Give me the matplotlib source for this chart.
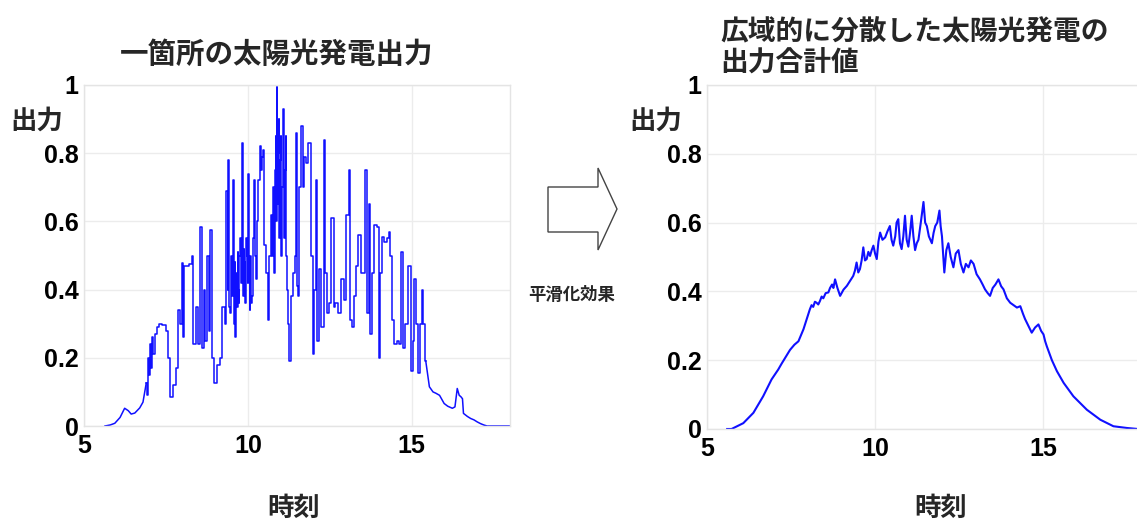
import matplotlib
matplotlib.use("Agg")
import matplotlib.pyplot as plt
import numpy as np
from matplotlib.patches import Polygon

plt.rcParams['font.family'] = ['Noto Sans CJK JP', 'DejaVu Sans']

# ---- data: single site PV output (left) ----
single_time = [5.64, 5.8, 5.94, 6.1, 6.24, 6.35, 6.44, 6.55, 6.70, 6.8, 6.9, 6.93, 6.97, 7.0, 7.03,
               7.06, 7.1, 7.13, 7.18, 7.25, 7.3, 7.45, 7.55, 7.58, 7.66, 7.75, 7.86, 7.9, 7.95, 8.01,
               8.04, 8.07, 8.15, 8.25, 8.32, 8.36, 8.45, 8.5, 8.57, 8.62, 8.68, 8.72, 8.78, 8.82, 8.9,
               8.93, 9.0, 9.1, 9.17, 9.27, 9.32, 9.37, 9.39, 9.42, 9.44, 9.47, 9.49, 9.52, 9.54, 9.57,
               9.58, 9.6, 9.61, 9.63, 9.65, 9.67, 9.68, 9.7, 9.71, 9.73, 9.75, 9.78, 9.8, 9.83, 9.85,
               9.86, 9.88, 9.9, 9.92, 9.94, 9.96, 9.98, 10.0, 10.03, 10.05, 10.06, 10.08, 10.1, 10.12,
               10.15, 10.18, 10.21, 10.23, 10.25, 10.3, 10.34, 10.38, 10.42, 10.45, 10.48, 10.52,
               10.58, 10.64, 10.68, 10.74, 10.76, 10.78, 10.8, 10.82, 10.84, 10.85, 10.87, 10.89,
               10.9, 10.92, 10.93, 10.95, 10.96, 10.98, 11.0, 11.02, 11.03, 11.05, 11.07, 11.09,
               11.1, 11.12, 11.14, 11.16, 11.18, 11.2, 11.25, 11.29, 11.35, 11.4, 11.45, 11.49,
               11.52, 11.55, 11.6, 11.65, 11.7, 11.75, 11.8, 11.9, 11.95, 12.0, 12.05, 12.1, 12.15,
               12.2, 12.27, 12.35, 12.38, 12.45, 12.5, 12.6, 12.63, 12.7, 12.81, 12.9, 12.96, 13.06,
               13.11, 13.14, 13.2, 13.27, 13.32, 13.42, 13.5, 13.62, 13.65, 13.72, 13.75, 13.8,
               13.87, 13.92, 13.97, 14.02, 14.07, 14.12, 14.2, 14.27, 14.32, 14.38, 14.42, 14.53,
               14.6, 14.65, 14.7, 14.75, 14.85, 14.93, 15.0, 15.05, 15.1, 15.15, 15.23, 15.28,
               15.33, 15.38, 15.43, 15.54, 15.65, 15.74, 15.85, 15.99, 16.1, 16.24, 16.32, 16.39,
               16.45, 16.5, 16.55, 16.58, 16.7, 16.8, 16.9, 17.0, 17.1, 17.2, 17.3, 18.0]
single_output = [0.0, 0.003, 0.008, 0.025, 0.052, 0.045, 0.035, 0.038, 0.053, 0.07, 0.126, 0.09, 0.2,
                 0.15, 0.24, 0.17, 0.26, 0.21, 0.27, 0.29, 0.30, 0.295, 0.28, 0.2, 0.086, 0.12, 0.17,
                 0.34, 0.3, 0.477, 0.26, 0.47, 0.47, 0.475, 0.5, 0.24, 0.35, 0.24, 0.585, 0.23, 0.4,
                 0.25, 0.5, 0.28, 0.575, 0.2, 0.125, 0.18, 0.2, 0.35, 0.3, 0.69, 0.4, 0.78, 0.35,
                 0.33, 0.5, 0.45, 0.38, 0.72, 0.42, 0.3, 0.48, 0.26, 0.4, 0.45, 0.35, 0.51, 0.4, 0.36,
                 0.5, 0.55, 0.42, 0.83, 0.45, 0.38, 0.52, 0.48, 0.36, 0.4, 0.55, 0.5, 0.42, 0.74,
                 0.45, 0.34, 0.5, 0.45, 0.36, 0.38, 0.55, 0.72, 0.5, 0.43, 0.6, 0.72, 0.82, 0.75,
                 0.79, 0.81, 0.53, 0.45, 0.31, 0.5, 0.62, 0.5, 0.7, 0.55, 0.45, 0.75, 0.85, 0.6,
                 0.995, 0.7, 0.65, 0.8, 0.9, 0.55, 0.6, 0.78, 0.85, 0.5, 0.7, 0.8, 0.93, 0.6, 0.55,
                 0.75, 0.85, 0.5, 0.4, 0.3, 0.19, 0.38, 0.45, 0.5, 0.86, 0.41, 0.38, 0.7, 0.88, 0.7,
                 0.79, 0.77, 0.83, 0.5, 0.21, 0.4, 0.72, 0.25, 0.46, 0.29, 0.84, 0.45, 0.33, 0.36,
                 0.61, 0.35, 0.36, 0.33, 0.43, 0.37, 0.62, 0.75, 0.31, 0.29, 0.38, 0.47, 0.56, 0.45,
                 0.75, 0.33, 0.65, 0.27, 0.45, 0.59, 0.59, 0.585, 0.2, 0.45, 0.555, 0.54, 0.55, 0.57,
                 0.5, 0.31, 0.24, 0.25, 0.24, 0.51, 0.23, 0.3, 0.47, 0.16, 0.25, 0.43, 0.3, 0.155,
                 0.3, 0.4, 0.3, 0.19, 0.115, 0.1, 0.096, 0.09, 0.066, 0.058, 0.052, 0.056, 0.11,
                 0.09, 0.086, 0.08, 0.037, 0.028, 0.022, 0.018, 0.012, 0.007, 0.003, 0.0, 0.0]

# ---- data: aggregated output of widely distributed PV (right) ----
total_time = [5.6, 5.73, 6.08, 6.38, 6.67, 6.92, 7.12, 7.22, 7.47, 7.6, 7.72, 7.87, 8.06, 8.11, 8.16,
              8.21, 8.26, 8.31, 8.36, 8.41, 8.46, 8.53, 8.61, 8.66, 8.72, 8.76, 8.81, 8.88, 8.96,
              9.06, 9.16, 9.25, 9.35, 9.4, 9.45, 9.5, 9.55, 9.6, 9.65, 9.7, 9.75, 9.8, 9.85, 9.9,
              9.95, 10.0, 10.05, 10.1, 10.15, 10.22, 10.3, 10.37, 10.44, 10.49, 10.54, 10.6, 10.64,
              10.69, 10.74, 10.79, 10.84, 10.89, 10.94, 10.99, 11.04, 11.09, 11.14, 11.19, 11.24,
              11.29, 11.36, 11.44, 11.49, 11.54, 11.6, 11.69, 11.74, 11.79, 11.85, 11.915, 11.95,
              11.99, 12.03, 12.06, 12.12, 12.18, 12.25, 12.33, 12.4, 12.48, 12.55, 12.63, 12.7,
              12.78, 12.85, 12.93, 13.02, 13.12, 13.2, 13.27, 13.35, 13.42, 13.5, 13.58, 13.67,
              13.75, 13.82, 13.92, 14.02, 14.12, 14.22, 14.32, 14.4, 14.46, 14.56, 14.66, 14.76,
              14.86, 14.94, 15.01, 15.06, 15.11, 15.26, 15.41, 15.61, 15.90, 16.3, 16.7, 17.09,
              17.49, 17.8, 18.0]
total_output = [0.0, 0.0, 0.017, 0.047, 0.095, 0.144, 0.173, 0.19, 0.23, 0.245, 0.255, 0.29, 0.348,
                0.36, 0.355, 0.37, 0.367, 0.362, 0.372, 0.385, 0.38, 0.395, 0.397, 0.41, 0.42, 0.41,
                0.435, 0.41, 0.387, 0.405, 0.416, 0.43, 0.445, 0.46, 0.484, 0.455, 0.465, 0.49,
                0.528, 0.49, 0.494, 0.515, 0.503, 0.52, 0.533, 0.51, 0.494, 0.545, 0.571, 0.55,
                0.557, 0.575, 0.59, 0.55, 0.533, 0.56, 0.6, 0.61, 0.54, 0.523, 0.56, 0.62, 0.55,
                0.53, 0.57, 0.62, 0.56, 0.52, 0.54, 0.55, 0.6, 0.66, 0.6, 0.59, 0.56, 0.54, 0.57,
                0.59, 0.6, 0.635, 0.59, 0.56, 0.5, 0.455, 0.52, 0.54, 0.5, 0.47, 0.51, 0.52, 0.48,
                0.455, 0.48, 0.47, 0.49, 0.48, 0.45, 0.435, 0.42, 0.406, 0.395, 0.387, 0.41, 0.42,
                0.435, 0.415, 0.406, 0.38, 0.367, 0.36, 0.353, 0.357, 0.335, 0.32, 0.3, 0.28, 0.295,
                0.304, 0.285, 0.275, 0.255, 0.24, 0.20, 0.168, 0.134, 0.095, 0.056, 0.027, 0.008,
                0.003, 0.0, 0.0]

x_ticks = [5, 10, 15]
y_ticks = [0, 0.2, 0.4, 0.6, 0.8, 1]
y_ticklabels = ['0', '0.2', '0.4', '0.6', '0.8', '1']

title_left = '一箇所の太陽光発電出力'
title_right = '広域的に分散した太陽光発電の\n出力合計値'
ylabel = '出力'
xlabel = '時刻'
arrow_label = '平滑化効果'

W, H = 1137, 523
fig = plt.figure(figsize=(W / 100, H / 100), dpi=100)
fig.patch.set_facecolor('white')

tick_font = dict(family=['Liberation Sans', 'DejaVu Sans'], weight='bold', size=18)
line_color = '#1010ff'


def style(ax):
    ax.set_xlim(5, 18)
    ax.set_ylim(0, 1)
    ax.set_xticks(x_ticks)
    ax.set_xticklabels([str(x) for x in x_ticks], **tick_font)
    ax.set_yticks(y_ticks)
    ax.set_yticklabels(y_ticklabels, **tick_font)
    ax.tick_params(length=0, pad=4)
    ax.tick_params(axis='x', pad=6)
    ax.grid(True, color='#ececec', lw=1)
    ax.set_axisbelow(True)
    for s in ax.spines.values():
        s.set_color('#e4e4e4')
        s.set_linewidth(1)


ax1 = fig.add_axes([84 / W, 1 - 426 / H, 426 / W, 341 / H])
st = np.array(single_time)
sv = np.array(single_output)
noisy = (st >= 6.88) & (st <= 15.5)
i0 = np.argmax(noisy)
i1 = len(st) - np.argmax(noisy[::-1])
# smooth ramp-up and tail: straight segments; noisy part: step-like jumps
ax1.plot(st[:i0 + 1], sv[:i0 + 1], color=line_color, lw=1.1)
ax1.plot(st[i0:i1], sv[i0:i1], color=line_color, lw=1.1, drawstyle='steps-mid')
ax1.plot(st[i1 - 1:], sv[i1 - 1:], color=line_color, lw=1.1)
style(ax1)

ax2 = fig.add_axes([707 / W, 1 - 429 / H, 437 / W, 344 / H])
ax2.plot(total_time, total_output, color=line_color, lw=1.5)
style(ax2)

# titles and labels
cjk_bold = dict(weight='bold', color='#262626')
fig.text(277 / W, 1 - 55 / H, title_left, ha='center', va='center', fontsize=20.5, **cjk_bold)
fig.text(720 / W, 1 - 48 / H, title_right, ha='left', va='center', fontsize=20,
         linespacing=1.15, **cjk_bold)
fig.text(37 / W, 1 - 121 / H, ylabel, ha='center', va='center', fontsize=19, **cjk_bold)
fig.text(656 / W, 1 - 121 / H, ylabel, ha='center', va='center', fontsize=19, **cjk_bold)
fig.text(294 / W, 1 - 508 / H, xlabel, ha='center', va='center', fontsize=19, **cjk_bold)
fig.text(941 / W, 1 - 508 / H, xlabel, ha='center', va='center', fontsize=19, **cjk_bold)

# block arrow between the panels
arrow_px = [(548, 187), (598, 187), (598, 168), (617, 209), (598, 250), (598, 232), (548, 232)]
arrow = Polygon([(x / W, 1 - y / H) for x, y in arrow_px], closed=True,
                transform=fig.transFigure, facecolor='white', edgecolor='#444444', lw=1.0)
fig.add_artist(arrow)
fig.text(572 / W, 1 - 295 / H, arrow_label, ha='center', va='center', fontsize=12.5, **cjk_bold)

fig.savefig('out.png', dpi=100, facecolor='white')
